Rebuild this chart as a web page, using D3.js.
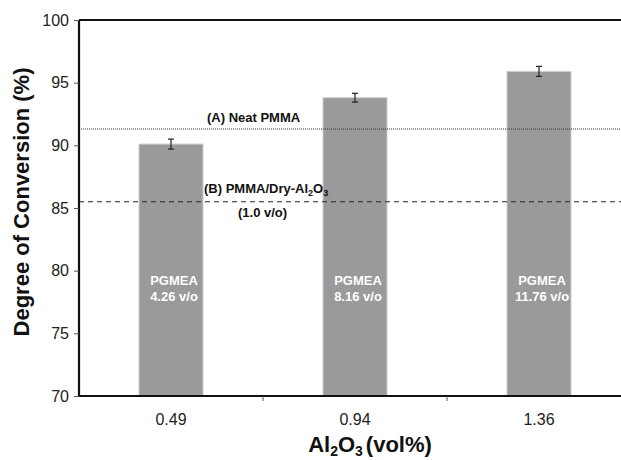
<!DOCTYPE html>
<html>
<head>
<meta charset="utf-8">
<script src="https://cdn.jsdelivr.net/npm/d3@7"></script>
<style>
  body { margin: 0; background: #fff; }
  svg { display: block; font-family: "Liberation Sans", Arial, sans-serif; }
</style>
</head>
<body>
<svg id="chart" width="621" height="460"></svg>
<script>
// data
const categories = ["0.49", "0.94", "1.36"]
const conversion = [90.1, 93.8, 95.9]
const errors = [0.4, 0.35, 0.4]
const pgmeaLabels = ["4.26 v/o", "8.16 v/o", "11.76 v/o"]
const yTicks = [70, 75, 80, 85, 90, 95, 100]
const neatPmma = 91.3
const dryAl2O3 = 85.5

const margin = { top: 20, left: 79 }
const plotW = 552, plotH = 376

const svg = d3.select("#chart")

const x = d3.scaleBand().domain(categories).range([margin.left, margin.left + plotW]).paddingInner(0.652).paddingOuter(0.326)
const y = d3.scaleLinear().domain([70, 100]).range([margin.top + plotH, margin.top])

// bars
svg.append("g").selectAll("rect")
  .data(conversion)
  .join("rect")
  .attr("x", (d, i) => x(categories[i]))
  .attr("y", d => y(d))
  .attr("width", x.bandwidth())
  .attr("height", d => y(70) - y(d))
  .attr("fill", "#9a9a9a")
  .attr("stroke", "#cfcfcf")
  .attr("stroke-width", 1)

// error bars
const eb = svg.append("g").attr("stroke", "#222").attr("stroke-width", 1.2)
conversion.forEach((d, i) => {
  const cx = x(categories[i]) + x.bandwidth() / 2
  eb.append("line").attr("x1", cx).attr("x2", cx).attr("y1", y(d + errors[i])).attr("y2", y(d - errors[i]))
  eb.append("line").attr("x1", cx - 3).attr("x2", cx + 3).attr("y1", y(d + errors[i])).attr("y2", y(d + errors[i]))
  eb.append("line").attr("x1", cx - 3).attr("x2", cx + 3).attr("y1", y(d - errors[i])).attr("y2", y(d - errors[i]))
})

// labels inside bars
const bl = svg.append("g").attr("fill", "#fff").attr("font-weight", "bold").attr("font-size", 13).attr("text-anchor", "middle")
pgmeaLabels.forEach((t, i) => {
  const cx = x(categories[i]) + x.bandwidth() / 2 + 3
  bl.append("text").attr("x", cx).attr("y", 285).text("PGMEA")
  bl.append("text").attr("x", cx).attr("y", 301).text(t)
})

// reference lines
svg.append("line")
  .attr("x1", margin.left).attr("x2", 621)
  .attr("y1", y(neatPmma)).attr("y2", y(neatPmma))
  .attr("stroke", "#333").attr("stroke-width", 1).attr("stroke-dasharray", "1,1")
svg.append("line")
  .attr("x1", margin.left).attr("x2", 621)
  .attr("y1", y(dryAl2O3)).attr("y2", y(dryAl2O3))
  .attr("stroke", "#222").attr("stroke-width", 1.2).attr("stroke-dasharray", "5,4")

const ann = svg.append("g").attr("font-weight", "bold").attr("font-size", 13).attr("fill", "#111")
ann.append("text").attr("x", 207).attr("y", y(neatPmma) - 7).text("(A) Neat PMMA")
const b = ann.append("text").attr("x", 204).attr("y", y(dryAl2O3) - 9)
b.append("tspan").text("(B) PMMA/Dry-Al")
b.append("tspan").attr("font-size", 9).attr("dy", 3).text("2")
b.append("tspan").attr("dy", -3).text("O")
b.append("tspan").attr("font-size", 9).attr("dy", 3).text("3")
ann.append("text").attr("x", 238).attr("y", y(dryAl2O3) + 15).text("(1.0 v/o)")

// axes
const yAxis = svg.append("g")
  .attr("transform", `translate(${margin.left},0)`)
  .call(d3.axisLeft(y).tickValues(yTicks).tickSize(5).tickPadding(5).tickFormat(d3.format("d")))
yAxis.select(".domain").attr("stroke", "#111").attr("stroke-width", 2.2).attr("d", `M0,${margin.top}V${margin.top + plotH}`)
yAxis.selectAll(".tick line").attr("stroke", "#555")
yAxis.selectAll("text").attr("font-size", 16).attr("fill", "#222").attr("font-family", "Liberation Sans, Arial, sans-serif")

const xAxis = svg.append("g")
  .attr("transform", `translate(0,${margin.top + plotH})`)
  .call(d3.axisBottom(x).tickSize(0).tickPadding(18))
xAxis.select(".domain").attr("stroke", "#111").attr("stroke-width", 2.2)
  .attr("d", `M${margin.left},0H621`)
xAxis.selectAll("text").attr("font-size", 16).attr("fill", "#222").attr("font-family", "Liberation Sans, Arial, sans-serif")
// ticks at band boundaries
xAxis.selectAll(".bound")
  .data(categories.slice(1))
  .join("line")
  .attr("x1", d => x(d) - x.step() * 0.326)
  .attr("x2", d => x(d) - x.step() * 0.326)
  .attr("y1", 0).attr("y2", 5)
  .attr("stroke", "#555")

// top frame
svg.append("line").attr("x1", margin.left).attr("x2", 621).attr("y1", margin.top).attr("y2", margin.top)
  .attr("stroke", "#111").attr("stroke-width", 2.2)

// axis titles
svg.append("text")
  .attr("transform", "translate(29,202) rotate(-90)")
  .attr("text-anchor", "middle")
  .attr("font-weight", "bold").attr("font-size", 22).attr("fill", "#111")
  .text("Degree of Conversion (%)")

const xt = svg.append("text").attr("x", 370).attr("y", 452).attr("text-anchor", "middle")
  .attr("font-weight", "bold").attr("font-size", 22).attr("fill", "#111")
xt.append("tspan").text("Al")
xt.append("tspan").attr("font-size", 14).attr("dy", 4).text("2")
xt.append("tspan").attr("dy", -4).text("O")
xt.append("tspan").attr("font-size", 14).attr("dy", 4).text("3")
xt.append("tspan").attr("dy", -4).attr("dx", 3).text("(vol%)")
</script>
</body>
</html>
